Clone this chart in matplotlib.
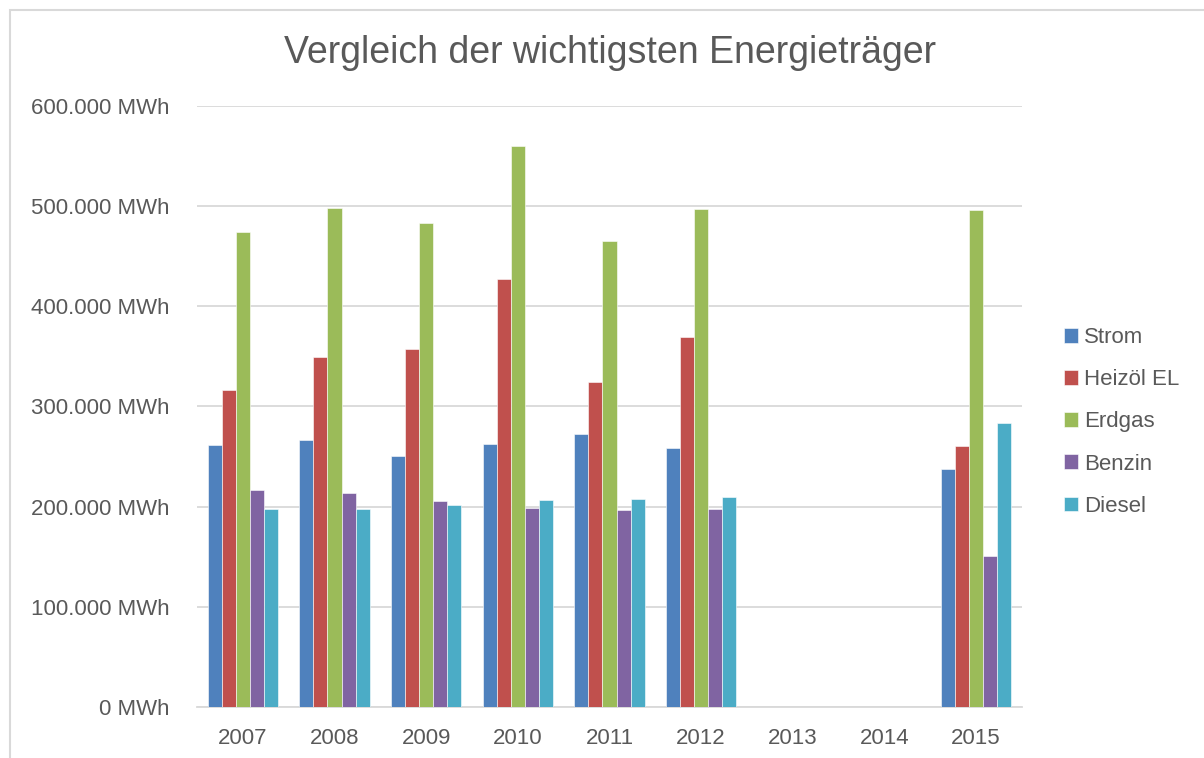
import matplotlib.pyplot as plt
import numpy as np
from matplotlib.patches import Rectangle
from matplotlib.ticker import FuncFormatter

plt.rcParams['font.family'] = ['Liberation Sans', 'DejaVu Sans']

# 數據
years = ['2007', '2008', '2009', '2010', '2011', '2012', '2013', '2014', '2015']
series = ['Strom', 'Heizöl EL', 'Erdgas', 'Benzin', 'Diesel']
strom = [262000, 266500, 251000, 263000, 272500, 259000, 0, 0, 238000]
heizoel = [316000, 349000, 357000, 427000, 324000, 369500, 0, 0, 261000]
erdgas = [474000, 498500, 483000, 560000, 465000, 497000, 0, 0, 496000]
benzin = [217000, 214000, 206000, 199000, 197000, 197500, 0, 0, 151000]
diesel = [198000, 197400, 202000, 207000, 208000, 210000, 0, 0, 283500]
values = [strom, heizoel, erdgas, benzin, diesel]
colors = ['#4f81bd', '#c0504d', '#9bbb59', '#8064a2', '#4bacc6']

text_color = '#595959'
grid_color = '#d9d9d9'

fig = plt.figure(figsize=(12.04, 7.58), dpi=100)
ax = fig.add_axes([197/1204, 51/758, 825/1204, 601/758])

# 外框
fig.patches.append(Rectangle((10/1204, -0.1), 1.2, (748/758) + 0.1,
                             transform=fig.transFigure, fill=False,
                             edgecolor=grid_color, lw=1.5, zorder=0))

x = np.arange(len(years))
w = 0.153
for i, (name, vals) in enumerate(zip(series, values)):
    ax.bar(x + (i - 2) * w, vals, width=w, color=colors[i], label=name,
           edgecolor='white', linewidth=0.4, zorder=3)

ax.set_xlim(-0.5, len(years) - 0.5)
ax.set_ylim(0, 600000)
ax.set_yticks(np.arange(0, 600001, 100000))
ax.yaxis.set_major_formatter(FuncFormatter(
    lambda v, p: f"{v:,.0f}".replace(",", ".") + " MWh"))
ax.set_xticks(x)
ax.set_xticklabels(years)

ax.grid(axis='y', color=grid_color, lw=1.3, zorder=0)
for s in ['top', 'right', 'left']:
    ax.spines[s].set_visible(False)
ax.spines['bottom'].set_color(grid_color)
ax.spines['bottom'].set_linewidth(1.3)
ax.tick_params(axis='both', length=0, labelsize=16, colors=text_color)
ax.tick_params(axis='y', pad=20)
ax.tick_params(axis='x', pad=15)

fig.text(610/1204, 1 - 53/758, 'Vergleich der wichtigsten Energieträger',
         ha='center', va='center', fontsize=27, color=text_color)

leg = ax.legend(loc='center left', bbox_to_anchor=(1055/1204, 1 - 422/758),
                bbox_transform=fig.transFigure, frameon=False, fontsize=16,
                handlelength=0.65, handleheight=0.65, handletextpad=0.25,
                labelspacing=0.95, borderaxespad=0)
for t in leg.get_texts():
    t.set_color(text_color)

fig.savefig('out.png', dpi=100, facecolor='white')
